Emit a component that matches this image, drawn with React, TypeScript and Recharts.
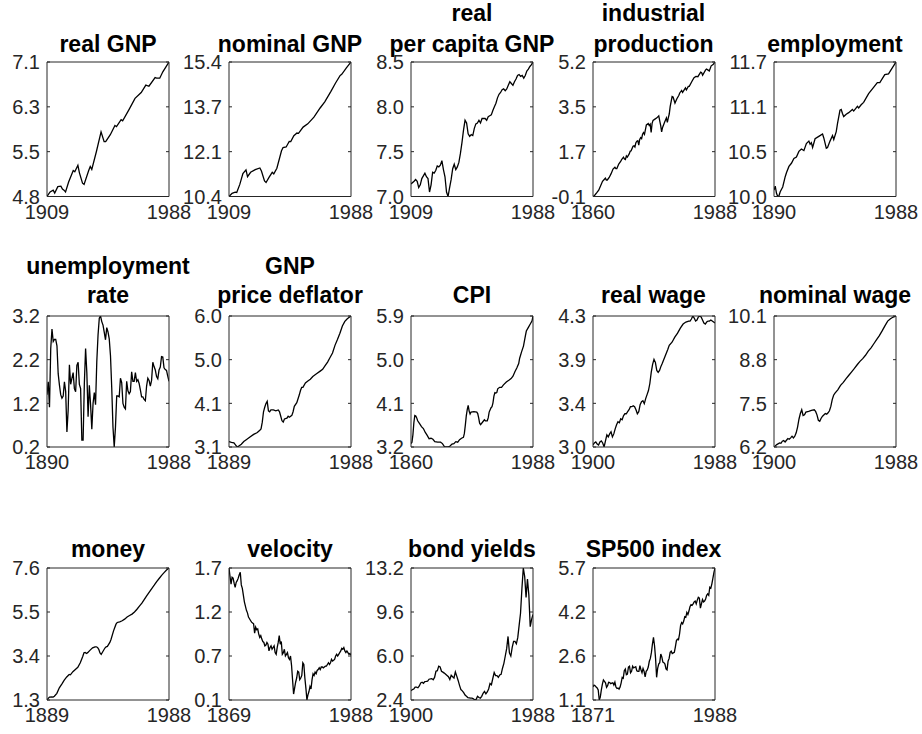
import React from 'react';
import { LineChart, Line, XAxis, YAxis } from 'recharts';

const FONT = '"Liberation Sans", Arial, Helvetica, sans-serif';
const AX = '#262626';

// ---------- data ----------
const realGnpYears = [1909,1911,1913,1914,1916,1918,1919,1920,1921,1923,1926,1927,1929,1930,1932,1933,1936,1937,1938,1941,1944,1946,1947,1950,1953,1954,1957,1958,1962,1966,1970,1973,1975,1979,1980,1982,1984,1988];
const realGnpValues = [4.75,4.83,4.86,4.81,4.92,4.93,4.88,4.86,4.83,5.00,5.20,5.18,5.29,5.16,4.98,4.96,5.20,5.27,5.22,5.53,5.87,5.70,5.70,5.82,5.98,5.96,6.08,6.06,6.25,6.45,6.55,6.68,6.66,6.81,6.80,6.80,6.91,7.08];
const realGnpTicks = ['4.8','5.5','6.3','7.1'];

const nomGnpYears = [1909,1911,1913,1914,1916,1918,1920,1921,1923,1926,1929,1930,1932,1933,1935,1937,1938,1940,1943,1944,1946,1948,1949,1951,1953,1954,1957,1960,1964,1968,1971,1975,1978,1981,1982,1985,1988];
const nomGnpValues = [10.40,10.52,10.56,10.55,10.85,11.25,11.39,11.14,11.30,11.40,11.46,11.35,10.98,10.92,11.12,11.30,11.24,11.45,12.10,12.22,12.24,12.45,12.44,12.66,12.76,12.75,12.98,13.10,13.35,13.69,13.92,14.31,14.62,14.90,14.94,15.18,15.40];
const nomGnpTicks = ['10.4','12.1','13.7','15.4'];

const pcGnpYears = [1909,1911,1912,1913,1914,1915,1916,1918,1919,1920,1921,1922,1923,1924,1925,1926,1927,1928,1929,1930,1931,1932,1933,1934,1935,1936,1937,1938,1939,1940,1941,1942,1943,1944,1945,1946,1947,1948,1949,1950,1951,1952,1953,1954,1955,1956,1957,1958,1959,1960,1961,1962,1963,1964,1965,1966,1967,1968,1969,1970,1971,1972,1973,1974,1975,1976,1977,1978,1979,1980,1981,1982,1983,1984,1985,1986,1987,1988];
const pcGnpValues = [7.14,7.17,7.19,7.17,7.10,7.13,7.20,7.26,7.22,7.20,7.05,7.13,7.27,7.26,7.29,7.34,7.33,7.35,7.40,7.30,7.22,7.05,7.00,7.10,7.19,7.31,7.36,7.30,7.33,7.38,7.48,7.60,7.74,7.85,7.82,7.70,7.67,7.69,7.68,7.76,7.81,7.82,7.85,7.82,7.87,7.87,7.87,7.85,7.89,7.90,7.91,7.96,8.00,8.04,8.10,8.14,8.16,8.19,8.20,8.18,8.20,8.24,8.28,8.26,8.24,8.28,8.31,8.35,8.36,8.34,8.35,8.32,8.35,8.40,8.42,8.45,8.47,8.50];
const pcGnpTicks = ['7.0','7.5','8.0','8.5'];

const ipYears = [1860,1861,1862,1864,1866,1868,1870,1872,1873,1874,1875,1877,1879,1881,1883,1884,1885,1887,1889,1890,1892,1893,1894,1895,1896,1898,1899,1900,1902,1903,1904,1905,1906,1907,1908,1909,1910,1911,1912,1913,1914,1916,1918,1919,1920,1921,1922,1923,1925,1927,1929,1930,1931,1932,1933,1935,1937,1938,1939,1940,1941,1943,1944,1945,1946,1948,1950,1951,1953,1954,1957,1958,1960,1961,1964,1966,1968,1970,1973,1974,1975,1978,1979,1980,1982,1984,1986,1988];
const ipValues = [-0.10,-0.08,-0.04,0.05,0.15,0.32,0.50,0.58,0.62,0.55,0.55,0.65,0.80,0.98,1.05,1.00,1.00,1.18,1.28,1.35,1.45,1.38,1.36,1.50,1.45,1.58,1.68,1.70,1.88,1.90,1.85,2.02,2.08,2.10,1.92,2.15,2.22,2.18,2.35,2.42,2.35,2.72,2.78,2.70,2.75,2.42,2.78,2.90,2.95,3.00,3.08,2.88,2.70,2.45,2.62,2.82,3.00,2.82,3.00,3.15,3.45,3.84,3.82,3.70,3.58,3.75,3.88,3.98,4.08,4.00,4.18,4.10,4.24,4.24,4.45,4.58,4.63,4.62,4.80,4.78,4.68,4.88,4.92,4.90,4.85,5.05,5.10,5.20];
const ipTicks = ['-0.1','1.7','3.5','5.2'];

const empYears = [1890,1891,1892,1893,1894,1895,1897,1899,1900,1902,1904,1906,1908,1910,1912,1914,1916,1918,1919,1920,1921,1923,1926,1929,1930,1932,1933,1935,1937,1938,1940,1941,1943,1944,1945,1946,1948,1950,1953,1954,1957,1958,1960,1962,1966,1970,1973,1975,1979,1982,1984,1988];
const empValues = [10.08,10.13,10.04,10.00,10.01,10.06,10.12,10.25,10.30,10.38,10.42,10.48,10.50,10.57,10.60,10.58,10.67,10.70,10.66,10.68,10.62,10.73,10.76,10.79,10.74,10.61,10.62,10.70,10.77,10.72,10.82,10.92,11.09,11.10,11.05,11.01,11.04,11.06,11.10,11.08,11.14,11.12,11.16,11.19,11.30,11.38,11.44,11.44,11.54,11.55,11.60,11.70];
const empTicks = ['10.0','10.5','11.1','11.7'];

const unYears = [1890,1891,1892,1893,1894,1895,1896,1897,1898,1899,1900,1901,1902,1903,1904,1905,1906,1907,1908,1909,1910,1911,1912,1913,1914,1915,1916,1917,1918,1919,1920,1921,1922,1923,1924,1925,1926,1927,1928,1929,1930,1931,1932,1933,1934,1935,1936,1937,1938,1939,1940,1941,1942,1943,1944,1945,1946,1947,1948,1949,1950,1951,1952,1953,1954,1955,1956,1957,1958,1959,1960,1961,1962,1963,1964,1965,1966,1967,1968,1969,1970,1971,1972,1973,1974,1975,1976,1977,1978,1979,1980,1981,1982,1983,1984,1985,1986,1987,1988];
const unValues = [1.39,1.69,1.10,2.46,2.91,2.62,2.67,2.67,2.52,1.87,1.61,1.39,1.31,1.36,1.69,1.46,0.53,1.03,2.08,1.63,1.77,1.90,1.53,1.46,2.07,2.14,1.63,1.53,0.34,0.34,1.65,2.46,1.90,0.88,1.61,1.16,0.59,1.19,1.44,1.16,2.16,2.77,3.16,3.21,3.08,3.00,2.83,2.66,2.94,2.84,2.68,2.29,1.55,0.64,0.18,0.64,1.36,1.36,1.34,1.77,1.67,1.19,1.10,1.06,1.70,1.48,1.41,1.46,1.92,1.70,1.70,1.90,1.70,1.74,1.65,1.50,1.34,1.34,1.28,1.25,1.59,1.77,1.72,1.59,1.72,2.14,2.04,1.96,1.81,1.76,1.96,2.03,2.27,2.26,2.01,1.97,1.95,1.82,1.70];
const unTicks = ['0.2','1.2','2.2','3.2'];

const defYears = [1889,1891,1893,1895,1896,1897,1899,1901,1903,1906,1909,1912,1914,1915,1916,1917,1918,1919,1920,1921,1922,1923,1925,1927,1929,1930,1931,1932,1933,1934,1936,1937,1938,1940,1941,1942,1944,1946,1947,1948,1949,1951,1953,1955,1957,1960,1963,1965,1967,1969,1971,1973,1975,1977,1979,1981,1983,1985,1988];
const defValues = [3.22,3.20,3.19,3.12,3.10,3.12,3.16,3.22,3.26,3.32,3.38,3.42,3.47,3.50,3.65,3.88,3.98,4.06,4.11,3.90,3.88,3.92,3.92,3.90,3.92,3.88,3.78,3.68,3.65,3.72,3.74,3.78,3.76,3.80,3.88,4.00,4.08,4.25,4.35,4.42,4.42,4.52,4.56,4.60,4.66,4.72,4.78,4.82,4.90,4.98,5.08,5.18,5.35,5.48,5.62,5.78,5.88,5.94,6.00];
const defTicks = ['3.1','4.1','5.0','6.0'];

const cpiYears = [1860,1861,1862,1863,1864,1865,1866,1867,1869,1871,1873,1875,1877,1879,1881,1883,1885,1888,1891,1893,1895,1897,1899,1901,1903,1905,1907,1909,1911,1913,1915,1916,1917,1918,1919,1920,1921,1922,1923,1926,1929,1930,1931,1932,1933,1935,1937,1938,1940,1941,1942,1944,1945,1946,1947,1948,1949,1950,1951,1953,1955,1957,1960,1963,1965,1967,1969,1971,1973,1974,1976,1978,1980,1981,1983,1985,1987,1988];
const cpiValues = [3.27,3.30,3.45,3.70,3.85,3.84,3.80,3.74,3.68,3.62,3.58,3.50,3.44,3.37,3.38,3.36,3.31,3.30,3.30,3.27,3.21,3.20,3.20,3.22,3.26,3.27,3.31,3.30,3.35,3.38,3.40,3.48,3.65,3.84,3.97,4.06,3.94,3.88,3.92,3.93,3.92,3.89,3.80,3.69,3.66,3.71,3.76,3.74,3.74,3.80,3.92,4.01,4.03,4.11,4.25,4.32,4.31,4.32,4.40,4.43,4.43,4.48,4.54,4.58,4.61,4.66,4.75,4.83,4.92,5.03,5.16,5.28,5.49,5.59,5.66,5.73,5.80,5.90];
const cpiTicks = ['3.2','4.1','5.0','5.9'];

const rwYears = [1900,1901,1902,1903,1904,1905,1906,1907,1908,1909,1910,1911,1912,1913,1914,1915,1916,1917,1918,1919,1920,1921,1922,1923,1924,1925,1926,1927,1928,1929,1930,1931,1932,1933,1934,1935,1936,1937,1938,1939,1940,1941,1942,1943,1944,1945,1946,1947,1948,1949,1950,1952,1954,1955,1957,1959,1961,1963,1965,1967,1969,1970,1971,1972,1973,1974,1975,1976,1977,1978,1979,1980,1981,1982,1983,1984,1985,1986,1987,1988];
const rwValues = [3.02,3.04,3.05,3.03,3.02,3.05,3.06,3.04,3.00,3.06,3.12,3.10,3.13,3.15,3.10,3.13,3.18,3.22,3.25,3.24,3.28,3.27,3.31,3.33,3.33,3.35,3.37,3.40,3.40,3.41,3.40,3.37,3.33,3.35,3.42,3.45,3.46,3.43,3.48,3.52,3.56,3.63,3.74,3.82,3.87,3.84,3.76,3.74,3.76,3.80,3.83,3.90,3.97,4.01,4.04,4.09,4.13,4.18,4.22,4.24,4.25,4.25,4.27,4.30,4.28,4.25,4.26,4.29,4.30,4.29,4.26,4.23,4.22,4.24,4.25,4.25,4.26,4.25,4.24,4.23];
const rwTicks = ['3.0','3.4','3.9','4.3'];

const nwYears = [1900,1902,1904,1905,1906,1907,1908,1909,1910,1911,1912,1913,1914,1915,1916,1917,1918,1919,1920,1921,1922,1923,1925,1927,1929,1930,1931,1932,1933,1934,1935,1937,1938,1939,1940,1941,1942,1943,1944,1946,1948,1950,1952,1954,1956,1958,1960,1962,1964,1966,1968,1970,1972,1974,1976,1978,1980,1982,1984,1986,1988];
const nwValues = [6.23,6.30,6.35,6.34,6.40,6.42,6.38,6.43,6.48,6.46,6.50,6.55,6.50,6.55,6.65,6.82,7.05,7.22,7.33,7.16,7.18,7.26,7.28,7.31,7.33,7.28,7.18,7.02,6.99,7.08,7.14,7.22,7.20,7.24,7.30,7.43,7.63,7.76,7.82,7.92,8.05,8.14,8.25,8.35,8.45,8.55,8.66,8.76,8.84,8.94,9.06,9.16,9.28,9.40,9.52,9.66,9.81,9.95,10.02,10.07,10.10];
const nwTicks = ['6.2','7.5','8.8','10.1'];

const moneyYears = [1889,1890,1891,1893,1894,1895,1897,1899,1901,1903,1905,1907,1908,1910,1912,1914,1916,1918,1919,1920,1921,1922,1924,1926,1928,1929,1930,1931,1932,1933,1934,1936,1937,1938,1940,1941,1943,1945,1946,1948,1950,1952,1954,1956,1958,1960,1962,1964,1966,1968,1970,1972,1974,1976,1978,1980,1982,1984,1986,1988];
const moneyValues = [1.30,1.38,1.44,1.45,1.44,1.48,1.62,1.88,2.06,2.25,2.40,2.52,2.50,2.65,2.76,2.86,3.08,3.38,3.55,3.57,3.52,3.56,3.68,3.79,3.84,3.84,3.81,3.72,3.55,3.48,3.58,3.78,3.84,3.86,4.05,4.20,4.60,4.92,5.00,5.03,5.08,5.16,5.26,5.33,5.40,5.50,5.63,5.78,5.92,6.10,6.28,6.45,6.62,6.78,6.95,7.10,7.25,7.38,7.50,7.60];
const moneyTicks = ['1.3','3.4','5.5','7.6'];

const velYears = [1869,1870,1871,1872,1873,1874,1875,1876,1877,1878,1879,1880,1881,1882,1883,1884,1885,1886,1887,1888,1889,1890,1891,1892,1893,1894,1895,1896,1897,1898,1899,1900,1901,1902,1903,1904,1905,1906,1907,1908,1909,1910,1911,1912,1913,1914,1915,1916,1917,1918,1919,1920,1921,1922,1923,1924,1925,1926,1927,1928,1929,1930,1931,1932,1933,1934,1935,1936,1937,1938,1939,1940,1941,1942,1943,1944,1945,1946,1947,1948,1949,1950,1951,1952,1953,1954,1955,1956,1957,1958,1959,1960,1961,1962,1963,1964,1965,1966,1967,1968,1969,1970,1971,1972,1973,1974,1975,1976,1977,1978,1979,1980,1981,1982,1983,1984,1985,1986,1987,1988];
const velValues = [1.70,1.60,1.51,1.59,1.58,1.52,1.47,1.53,1.55,1.58,1.62,1.65,1.50,1.46,1.38,1.30,1.25,1.20,1.17,1.12,1.10,1.08,1.06,1.05,1.04,0.93,1.00,0.97,0.98,0.92,0.88,0.90,0.86,0.83,0.82,0.78,0.79,0.82,0.80,0.72,0.76,0.78,0.74,0.76,0.78,0.70,0.68,0.76,0.82,0.90,0.80,0.83,0.68,0.70,0.74,0.66,0.68,0.70,0.64,0.62,0.66,0.55,0.38,0.21,0.28,0.35,0.40,0.48,0.47,0.38,0.40,0.43,0.58,0.56,0.40,0.28,0.14,0.20,0.24,0.30,0.27,0.38,0.45,0.43,0.47,0.45,0.49,0.50,0.52,0.50,0.53,0.53,0.52,0.53,0.54,0.54,0.56,0.58,0.56,0.58,0.62,0.60,0.61,0.62,0.66,0.68,0.66,0.68,0.70,0.72,0.75,0.74,0.76,0.72,0.70,0.72,0.70,0.68,0.69,0.67];
const velTicks = ['0.1','0.7','1.2','1.7'];

const bondYears = [1900,1901,1902,1903,1904,1905,1906,1907,1908,1909,1910,1911,1912,1913,1914,1915,1916,1917,1918,1919,1920,1921,1922,1923,1924,1925,1926,1927,1928,1929,1930,1931,1932,1933,1934,1935,1936,1937,1938,1939,1940,1941,1942,1943,1944,1945,1946,1947,1948,1949,1950,1951,1952,1953,1954,1955,1956,1957,1958,1959,1960,1961,1962,1963,1964,1965,1966,1967,1968,1969,1970,1971,1972,1973,1974,1975,1976,1977,1978,1979,1980,1981,1982,1983,1984,1985,1986,1987,1988];
const bondValues = [3.16,3.25,3.30,3.45,3.45,3.40,3.55,3.80,3.85,3.77,3.90,3.92,3.95,4.10,4.12,4.15,4.05,4.25,4.75,4.80,5.17,5.10,4.75,4.68,4.60,4.50,4.40,4.30,4.08,4.42,4.30,4.20,4.70,4.35,4.00,3.60,3.25,3.15,3.00,2.80,2.70,2.60,2.58,2.55,2.55,2.50,2.40,2.45,2.70,2.60,2.55,2.70,2.95,3.10,2.90,3.06,3.30,3.75,3.65,4.16,4.65,4.40,4.40,4.25,4.45,4.50,5.00,5.40,6.00,6.60,7.60,6.25,6.00,6.70,7.20,7.20,7.00,7.50,8.50,9.50,11.50,13.20,12.50,10.80,12.30,11.00,8.40,9.00,9.40];
const bondTicks = ['2.4','6.0','9.6','13.2'];

const spYears = [1871,1872,1873,1874,1875,1876,1877,1878,1879,1880,1881,1882,1883,1884,1885,1886,1887,1888,1889,1890,1891,1892,1893,1894,1895,1896,1897,1898,1899,1900,1901,1902,1903,1904,1905,1906,1907,1908,1909,1910,1911,1912,1913,1914,1915,1916,1917,1918,1919,1920,1921,1922,1923,1924,1925,1926,1927,1928,1929,1930,1931,1932,1933,1934,1935,1936,1937,1938,1939,1940,1941,1942,1943,1944,1945,1946,1947,1948,1949,1950,1951,1952,1953,1954,1955,1956,1957,1958,1959,1960,1961,1962,1963,1964,1965,1966,1967,1968,1969,1970,1971,1972,1973,1974,1975,1976,1977,1978,1979,1980,1981,1982,1983,1984,1985,1986,1987,1988];
const spValues = [1.56,1.62,1.60,1.55,1.52,1.45,1.10,1.20,1.45,1.65,1.80,1.75,1.70,1.54,1.60,1.72,1.71,1.67,1.69,1.70,1.62,1.72,1.55,1.50,1.52,1.48,1.55,1.70,1.89,1.86,2.12,2.18,1.98,2.00,2.25,2.28,2.05,2.10,2.28,2.22,2.24,2.26,2.12,2.10,2.10,2.30,2.15,2.05,2.20,2.10,1.91,2.10,2.15,2.25,2.45,2.55,2.75,3.05,3.28,3.00,2.55,1.89,2.20,2.35,2.40,2.70,2.60,2.42,2.40,2.35,2.18,2.15,2.45,2.55,2.76,2.80,2.72,2.74,2.76,2.95,3.17,3.22,3.20,3.40,3.70,3.80,3.75,3.85,4.00,3.98,4.15,4.08,4.20,4.35,4.42,4.40,4.45,4.52,4.55,4.45,4.58,4.68,4.65,4.30,4.45,4.60,4.52,4.55,4.62,4.75,4.80,4.75,5.03,5.00,5.15,5.35,5.55,5.70];
const spTicks = ['1.1','2.6','4.2','5.7'];

type Series = { title: string[]; years: number[]; values: number[]; ticks: string[] };

const SERIES: Series[] = [
  { title: ['real GNP'], years: realGnpYears, values: realGnpValues, ticks: realGnpTicks },
  { title: ['nominal GNP'], years: nomGnpYears, values: nomGnpValues, ticks: nomGnpTicks },
  { title: ['real', 'per capita GNP'], years: pcGnpYears, values: pcGnpValues, ticks: pcGnpTicks },
  { title: ['industrial', 'production'], years: ipYears, values: ipValues, ticks: ipTicks },
  { title: ['employment'], years: empYears, values: empValues, ticks: empTicks },
  { title: ['unemployment', 'rate'], years: unYears, values: unValues, ticks: unTicks },
  { title: ['GNP', 'price deflator'], years: defYears, values: defValues, ticks: defTicks },
  { title: ['CPI'], years: cpiYears, values: cpiValues, ticks: cpiTicks },
  { title: ['real wage'], years: rwYears, values: rwValues, ticks: rwTicks },
  { title: ['nominal wage'], years: nwYears, values: nwValues, ticks: nwTicks },
  { title: ['money'], years: moneyYears, values: moneyValues, ticks: moneyTicks },
  { title: ['velocity'], years: velYears, values: velValues, ticks: velTicks },
  { title: ['bond yields'], years: bondYears, values: bondValues, ticks: bondTicks },
  { title: ['SP500 index'], years: spYears, values: spValues, ticks: spTicks },
];

// ---------- layout ----------
const COL_LEFT = [47, 229, 411, 592.5, 774];
const ROW_TOP = [62, 315.5, 567.5];
const ROW_H = [134.5, 131, 132];
const ROW_TITLE_BASE = [52, 303, 557];
const ROW_TITLE_GAP = [31, 29, 29];
const PLOT_W = 122;
const TICK_FS = 20;
const TITLE_FS = 23;
const PADL = 60, PADT = 16, PADR = 30, PADB = 40;

function Panel({ s, left, top, h }: { s: Series; left: number; top: number; h: number }) {
  const data = s.years.map((y, i) => ({ year: y, v: s.values[i] }));
  const min = Math.min(...s.values);
  const max = Math.max(...s.values);
  const yTicks = [0, 1, 2, 3].map((i) => min + ((max - min) * i) / 3);
  const x0 = s.years[0];
  const x1 = s.years[s.years.length - 1];
  const w = PLOT_W;

  const YTick = (p: any) => {
    const { x, y, index } = p;
    return (
      <g>
        <text x={x - 7} y={y} dy="0.36em" textAnchor="end" fontSize={TICK_FS} fontFamily={FONT} fill={AX}>
          {s.ticks[index]}
        </text>
        <line x1={x} x2={x + 3} y1={y} y2={y} stroke={AX} strokeWidth={1} />
        <line x1={x + w - 3} x2={x + w} y1={y} y2={y} stroke={AX} strokeWidth={1} />
      </g>
    );
  };
  const XTick = (p: any) => {
    const { x, y, payload } = p;
    return (
      <text x={x} y={y + 22} textAnchor="middle" fontSize={TICK_FS} fontFamily={FONT} fill={AX}>
        {String(payload.value)}
      </text>
    );
  };

  return (
    <div style={{ position: 'absolute', left: left - PADL, top: top - PADT }}>
      <LineChart width={PADL + w + PADR} height={PADT + h + PADB} data={data} margin={{ top: 0, right: 0, bottom: 0, left: 0 }}>
        <XAxis dataKey="year" type="number" domain={[x0, x1]} ticks={[x0, x1]} interval={0} height={PADB}
          tickLine={false} tickSize={0} tickMargin={0} axisLine={{ stroke: AX, strokeWidth: 1 }} tick={XTick} allowDataOverflow />
        <XAxis xAxisId="top" orientation="top" dataKey="year" type="number" domain={[x0, x1]} height={PADT}
          tick={false} tickLine={false} axisLine={{ stroke: AX, strokeWidth: 1 }} allowDataOverflow />
        <YAxis type="number" domain={[min, max]} ticks={yTicks} interval={0} width={PADL}
          tickLine={false} tickSize={0} tickMargin={0} axisLine={{ stroke: AX, strokeWidth: 1 }} tick={YTick} allowDataOverflow />
        <YAxis yAxisId="r" orientation="right" type="number" domain={[min, max]} width={PADR}
          tick={false} tickLine={false} axisLine={{ stroke: AX, strokeWidth: 1 }} allowDataOverflow />
        <Line dataKey="v" type="linear" stroke="#000" strokeWidth={1.3} dot={false} isAnimationActive={false} />
      </LineChart>
    </div>
  );
}

export default function App() {
  return (
    <div style={{ position: 'absolute', left: 0, top: 0, width: 922, height: 734, background: '#fff', overflow: 'hidden' }}>
      <svg width={922} height={734} style={{ position: 'absolute', left: 0, top: 0 }}>
        {SERIES.map((s, i) => {
          const row = Math.floor(i / 5);
          const col = i % 5;
          const cx = COL_LEFT[col] + PLOT_W / 2;
          const base = ROW_TITLE_BASE[row];
          const gap = ROW_TITLE_GAP[row];
          return (
            <text key={i} textAnchor="middle" fontSize={TITLE_FS} fontWeight="bold" fontFamily={FONT} fill="#000">
              {s.title.map((t, j) => (
                <tspan key={j} x={cx} y={base - (s.title.length - 1 - j) * gap}>{t}</tspan>
              ))}
            </text>
          );
        })}
      </svg>
      {SERIES.map((s, i) => {
        const row = Math.floor(i / 5);
        const col = i % 5;
        return <Panel key={i} s={s} left={COL_LEFT[col]} top={ROW_TOP[row]} h={ROW_H[row]} />;
      })}
    </div>
  );
}
